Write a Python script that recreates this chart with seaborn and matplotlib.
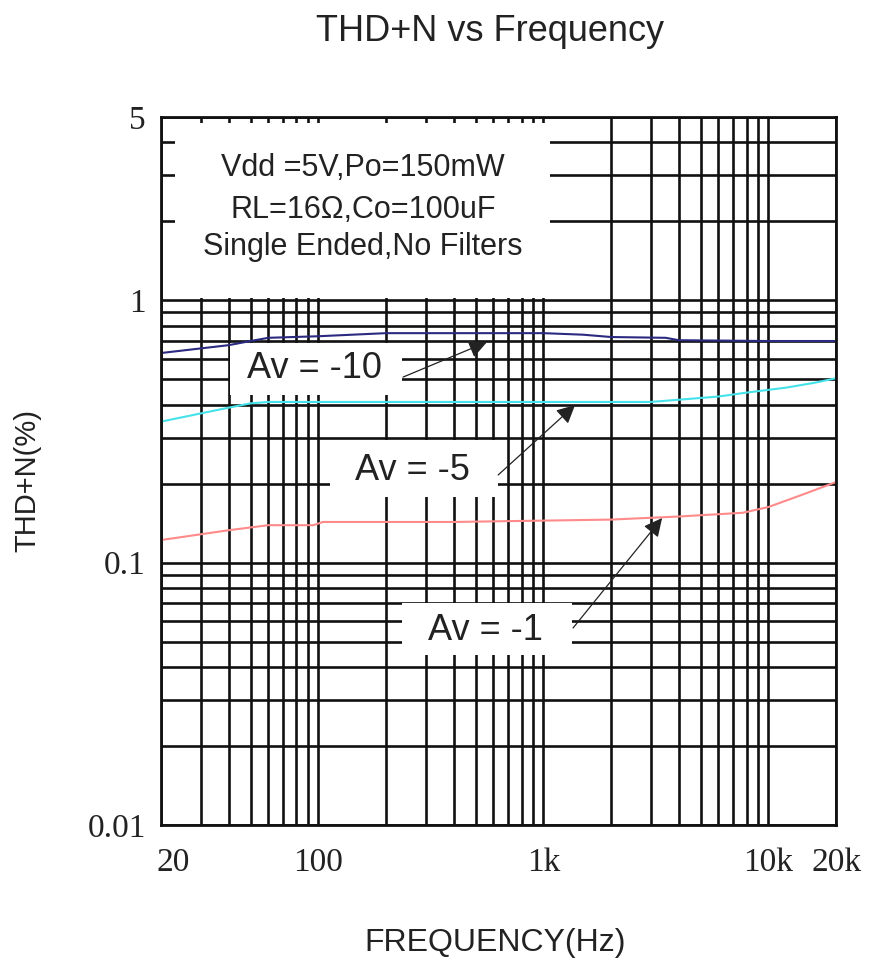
import matplotlib
matplotlib.use("Agg")
import matplotlib.pyplot as plt
import matplotlib.ticker as mticker
import matplotlib.transforms as mtransforms
from matplotlib.patches import Rectangle
import seaborn as sns
import pandas as pd

# ---------------- data ----------------
freq_av10 = [20, 40, 50, 60, 100, 200, 400, 1000, 1500, 2000, 3500, 4000, 10000, 20000]
thd_av10 = [0.63, 0.675, 0.70, 0.72, 0.73, 0.75, 0.75, 0.75, 0.74, 0.725, 0.72, 0.705, 0.70, 0.70]

freq_av5 = [20, 40, 50, 60, 100, 1000, 3000, 6000, 8000, 12000, 16000, 20000]
thd_av5 = [0.345, 0.39, 0.405, 0.41, 0.41, 0.41, 0.41, 0.43, 0.445, 0.465, 0.485, 0.505]

freq_av1 = [20, 40, 60, 95, 105, 400, 2000, 4000, 7700, 10000, 14000, 20000]
thd_av1 = [0.122, 0.133, 0.139, 0.139, 0.143, 0.143, 0.146, 0.150, 0.155, 0.163, 0.181, 0.203]

x_ticks = [20, 100, 1000, 10000, 20000]
x_ticklabels = ["20", "100", "1k", "10k", "20k"]
y_ticks = [0.01, 0.1, 1, 5]
y_ticklabels = ["0.01", "0.1", "1", "5"]

title = "THD+N vs Frequency"
x_label = "FREQUENCY(Hz)"
y_label = "THD+N(%)"
cond_lines = ["Vdd =5V,Po=150mW", "RL=16\u03a9,Co=100uF", "Single Ended,No Filters"]

# ---------------- style ----------------
sns.set_style("white")
plt.rcParams["font.family"] = ["Liberation Sans", "DejaVu Sans"]

fig = plt.figure(figsize=(8.69, 9.68), dpi=100)
ax = fig.add_axes([0.1853, 0.1477, 0.7768, 0.7314])

ax.set_xscale("log")
ax.set_yscale("log")
ax.set_xlim(20, 20000)
ax.set_ylim(0.01, 5)

series = [
    (freq_av10, thd_av10, "#2a2a80"),
    (freq_av5, thd_av5, "#45e2ea"),
    (freq_av1, thd_av1, "#ff8a8a"),
]
for fx, fy, col in series:
    df = pd.DataFrame({"f": fx, "thd": fy})
    sns.lineplot(data=df, x="f", y="thd", ax=ax, color=col, lw=1.5,
                 zorder=2, estimator=None)

# grid
ax.xaxis.set_minor_locator(mticker.LogLocator(base=10, subs=range(2, 10), numticks=20))
ax.yaxis.set_minor_locator(mticker.LogLocator(base=10, subs=range(2, 10), numticks=20))
ax.xaxis.set_minor_formatter(mticker.NullFormatter())
ax.yaxis.set_minor_formatter(mticker.NullFormatter())
ax.set_axisbelow(True)
ax.grid(which="both", color="#111111", lw=1.9)

ax.set_xticks(x_ticks)
ax.set_xticklabels(x_ticklabels)
ax.set_yticks(y_ticks)
ax.set_yticklabels(y_ticklabels)
ax.tick_params(which="both", length=0)
ax.tick_params(axis="x", pad=16)
ax.tick_params(axis="y", pad=11)
for lab in ax.get_xticklabels() + ax.get_yticklabels():
    lab.set_family(["Liberation Serif", "DejaVu Serif"])
    lab.set_fontsize(24)
    lab.set_color("#222222")
# nudge the first x label right like the reference
first = ax.get_xticklabels()[0]
first.set_transform(first.get_transform() +
                    mtransforms.ScaledTranslation(12 / 100, 0, fig.dpi_scale_trans))

for sp in ax.spines.values():
    sp.set_color("#111111")
    sp.set_linewidth(2.0)
    sp.set_zorder(5)

ax.set_xlabel("")
ax.set_ylabel("")

# white boxes covering grid
boxes = [
    (0.0207, 0.744, 0.555, 0.248),
    (0.102, 0.607, 0.255, 0.074),
    (0.250, 0.463, 0.249, 0.081),
    (0.357, 0.240, 0.252, 0.074),
]
for bx, by, bw, bh in boxes:
    ax.add_patch(Rectangle((bx, by), bw, bh, transform=ax.transAxes,
                           facecolor="white", edgecolor="none", zorder=1.5))

# condition text
for txt, yy in zip(cond_lines, [0.928, 0.869, 0.816]):
    ax.text(0.299, yy, txt, transform=ax.transAxes, ha="center", va="center",
            fontsize=22, color="#222222", zorder=4)

# Av labels with arrows
arrow_kw = dict(arrowstyle="-|>", color="#222222", lw=0.9, mutation_scale=28,
                shrinkA=0, shrinkB=0)
ax.text(0.228, 0.6455, "Av = -10", transform=ax.transAxes, ha="center",
        va="center", fontsize=26, color="#222222", zorder=4)
ax.annotate("", xy=(562, 0.694), xytext=(238, 0.51), arrowprops=arrow_kw, zorder=4)

ax.text(0.372, 0.501, "Av = -5", transform=ax.transAxes, ha="center",
        va="center", fontsize=26, color="#222222", zorder=4)
ax.annotate("", xy=(1384, 0.399), xytext=(630, 0.216), arrowprops=arrow_kw, zorder=4)

ax.text(0.481, 0.275, "Av = -1", transform=ax.transAxes, ha="center",
        va="center", fontsize=26, color="#222222", zorder=4)
ax.annotate("", xy=(3372, 0.148), xytext=(1356, 0.0564), arrowprops=arrow_kw, zorder=4)

# titles
fig.text(0.564, 0.967, title, ha="center", va="center", fontsize=26, color="#222222")
fig.text(0.5696, 0.0258, x_label, ha="center", va="center", fontsize=23, color="#222222")
fig.text(0.031, 0.504, y_label, ha="center", va="center", rotation=90,
         fontsize=21, color="#222222")

fig.savefig("out.png", dpi=100)
